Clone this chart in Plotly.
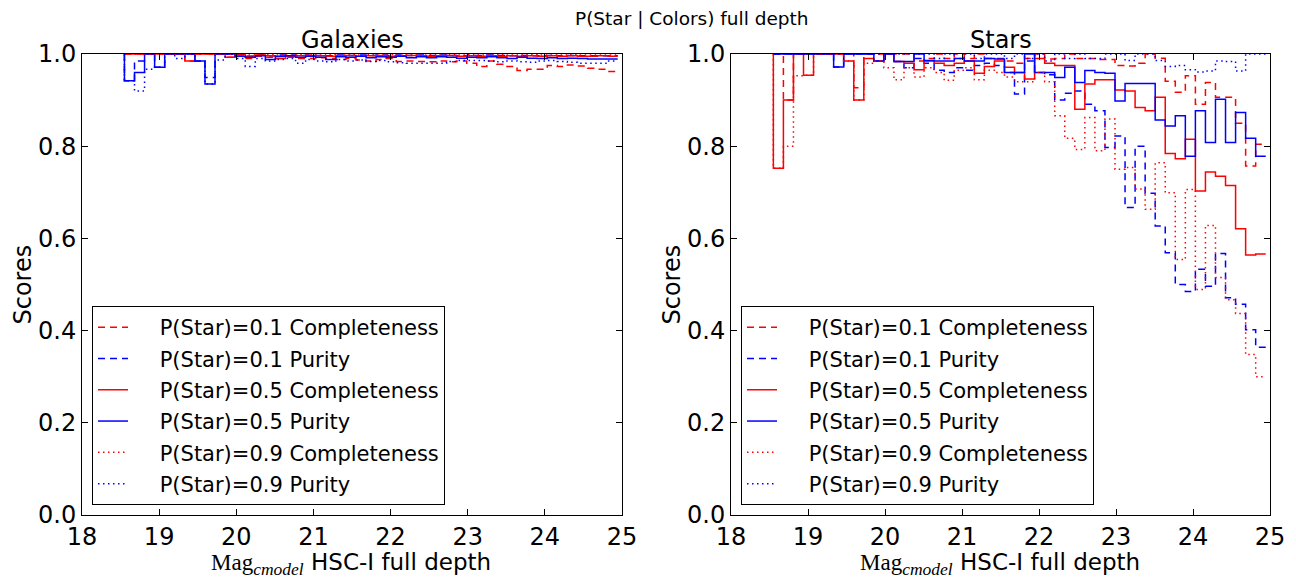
import plotly.graph_objects as go

# ---------------- data ----------------
BIN_START = 18.55
BIN_WIDTH = 0.1305
N_BINS = 49
EMPTY_BIN_SCORE = 1.0  # score of the (empty) bins brighter than the first edge

X_TICKS = [18, 19, 20, 21, 22, 23, 24, 25]
Y_TICKS = [0.0, 0.2, 0.4, 0.6, 0.8, 1.0]

series_names = [
    "P(Star)=0.1 Completeness",
    "P(Star)=0.1 Purity",
    "P(Star)=0.5 Completeness",
    "P(Star)=0.5 Purity",
    "P(Star)=0.9 Completeness",
    "P(Star)=0.9 Purity",
]

# ---- Stars panel ----
star_c01 = [1.0, 0.90, 1.0, 1.0, 1.0, 1.0, 1.0, 1.0, 0.927, 1.0,
            1.0, 1.0, 1.0, 1.0, 0.985, 0.99, 1.0, 0.99, 1.0, 0.99,
            1.0, 0.99, 0.99, 0.985, 0.98, 0.99, 1.0, 0.989, 0.99, 1.0,
            0.99, 0.99, 0.988, 0.988, 0.975, 0.974, 0.98, 1.0, 0.991, 0.941,
            0.917, 0.953, 0.891, 0.938, 0.906, 0.906, 0.85, 0.757, 0.804]
star_p01 = [1.0, 1.0, 1.0, 1.0, 1.0, 1.0, 0.972, 1.0, 1.0, 1.0,
            0.985, 1.0, 0.984, 0.97, 0.99, 0.98, 0.965, 0.96, 0.97, 0.965,
            0.975, 0.98, 0.975, 0.96, 0.913, 0.985, 0.96, 0.955, 0.90, 0.915,
            0.92, 0.891, 0.877, 0.797, 0.822, 0.667, 0.80, 0.698, 0.627, 0.569,
            0.50, 0.485, 0.533, 0.496, 0.567, 0.471, 0.457, 0.402, 0.364]
star_c05 = [0.752, 0.90, 1.0, 0.954, 1.0, 1.0, 1.0, 0.985, 0.90, 0.99,
            0.985, 1.0, 0.984, 0.98, 0.966, 0.985, 0.98, 0.975, 0.98, 0.985,
            0.958, 0.973, 0.985, 0.971, 0.96, 0.946, 0.99, 0.98, 0.975, 0.975,
            0.88, 0.935, 0.944, 0.944, 0.922, 0.92, 0.884, 0.877, 0.906, 0.784,
            0.773, 0.815, 0.703, 0.744, 0.735, 0.715, 0.621, 0.564, 0.566]
star_p05 = [1.0, 1.0, 1.0, 1.0, 1.0, 1.0, 0.972, 1.0, 1.0, 1.0,
            0.985, 1.0, 0.984, 0.984, 1.0, 0.986, 0.985, 0.985, 0.99, 0.985,
            0.985, 0.99, 0.989, 0.96, 0.96, 1.0, 0.96, 0.96, 0.949, 0.971,
            0.938, 0.964, 0.96, 0.958, 0.898, 0.936, 0.936, 0.936, 0.857, 0.844,
            0.866, 0.778, 0.877, 0.808, 0.902, 0.808, 0.873, 0.817, 0.778]
star_c09 = [0.752, 0.80, 0.953, 0.954, 1.0, 1.0, 1.0, 0.985, 0.90, 0.98,
            0.985, 0.97, 0.944, 0.97, 0.95, 0.97, 0.96, 0.943, 0.965, 0.97,
            0.944, 0.965, 0.96, 0.95, 0.94, 0.94, 0.96, 0.94, 0.866, 0.817,
            0.793, 0.862, 0.79, 0.859, 0.75, 0.754, 0.707, 0.663, 0.764, 0.699,
            0.554, 0.706, 0.489, 0.628, 0.515, 0.467, 0.437, 0.348, 0.30]
star_p09 = [1.0, 1.0, 1.0, 1.0, 1.0, 1.0, 1.0, 1.0, 1.0, 1.0,
            1.0, 1.0, 1.0, 1.0, 1.0, 1.0, 0.99, 1.0, 0.99, 1.0,
            0.99, 1.0, 1.0, 0.99, 1.0, 0.99, 1.0, 0.985, 1.0, 0.99,
            1.0, 0.99, 0.99, 1.0, 1.0, 0.986, 1.0, 1.0, 0.986, 0.973,
            0.975, 0.966, 0.961, 0.963, 0.985, 0.984, 0.963, 1.0, 1.0]

# ---- Galaxies panel ----
gal_c01 = [1.0, 1.0, 1.0, 1.0, 1.0, 1.0, 0.985, 1.0, 1.0, 1.0,
           0.993, 0.998, 0.99, 0.995, 0.993, 0.99, 0.993, 0.99, 0.99, 0.992,
           0.99, 0.988, 0.99, 0.987, 0.985, 0.988, 0.99, 0.984, 0.985, 0.984,
           0.983, 0.985, 0.983, 0.985, 0.98, 0.973, 0.985, 0.978, 0.973, 0.964,
           0.967, 0.967, 0.975, 0.973, 0.976, 0.974, 0.969, 0.967, 0.962]
gal_p01 = [0.942, 0.985, 1.0, 0.971, 1.0, 1.0, 1.0, 0.985, 0.949, 1.0,
           1.0, 1.0, 0.995, 0.998, 0.996, 0.998, 0.998, 0.997, 0.998, 0.997,
           0.996, 0.998, 0.997, 0.998, 0.997, 0.998, 0.997, 0.998, 0.997, 0.998,
           0.997, 0.998, 0.997, 0.996, 0.997, 0.997, 0.998, 0.997, 0.996, 0.997,
           0.996, 0.996, 0.997, 0.996, 0.997, 0.996, 0.996, 0.996, 0.996]
gal_c05 = [1.0, 1.0, 1.0, 1.0, 1.0, 1.0, 0.985, 1.0, 1.0, 1.0,
           0.993, 1.0, 0.995, 0.998, 0.996, 0.99, 0.995, 0.996, 0.997, 0.996,
           0.995, 0.996, 0.997, 0.995, 0.996, 0.997, 0.995, 0.996, 0.997, 0.996,
           0.995, 0.996, 0.997, 0.995, 0.996, 0.995, 0.996, 0.995, 0.996, 0.995,
           0.996, 0.995, 0.996, 0.995, 0.996, 0.995, 0.995, 0.996, 0.995]
gal_p05 = [0.942, 0.96, 1.0, 0.971, 1.0, 1.0, 1.0, 0.985, 0.935, 1.0,
           1.0, 0.995, 0.993, 0.996, 0.988, 0.995, 0.996, 0.993, 0.995, 0.993,
           0.988, 0.994, 0.993, 0.995, 0.992, 0.994, 0.993, 0.995, 0.992, 0.994,
           0.992, 0.994, 0.993, 0.991, 0.993, 0.992, 0.994, 0.992, 0.99, 0.993,
           0.991, 0.99, 0.992, 0.99, 0.991, 0.99, 0.989, 0.989, 0.989]
gal_c09 = [1.0, 1.0, 1.0, 1.0, 1.0, 1.0, 1.0, 1.0, 1.0, 1.0,
           1.0, 1.0, 0.998, 1.0, 0.999, 0.998, 1.0, 0.999, 0.999, 0.998,
           0.999, 0.998, 0.999, 0.998, 0.999, 0.998, 0.999, 0.998, 0.999, 0.998,
           0.999, 0.998, 0.999, 0.998, 0.999, 0.998, 0.998, 0.999, 0.998, 0.998,
           0.999, 0.998, 0.998, 0.998, 0.999, 0.998, 0.998, 0.998, 0.998]
gal_p09 = [0.942, 0.92, 0.967, 0.971, 1.0, 0.99, 1.0, 0.985, 0.935, 0.987,
           1.0, 0.99, 0.973, 0.99, 0.985, 0.988, 0.99, 0.98, 0.988, 0.985,
           0.983, 0.988, 0.985, 0.987, 0.984, 0.986, 0.983, 0.981, 0.98, 0.98,
           0.98, 0.98, 0.984, 0.986, 0.986, 0.986, 0.985, 0.983, 0.985, 0.983,
           0.982, 0.985, 0.986, 0.984, 0.982, 0.98, 0.98, 0.98, 0.985]

# ---------------- styling ----------------
RED = "#ff0000"
BLUE = "#0000ff"
DASHED = "7px,5px"
DOTTED = "1.5px,3.5px"
styles = [(RED, DASHED), (BLUE, DASHED), (RED, "solid"),
          (BLUE, "solid"), (RED, DOTTED), (BLUE, DOTTED)]
FONT = "DejaVu Sans"
LEGEND_PAD = "&nbsp;" * 4

edges = [BIN_START + BIN_WIDTH * i for i in range(N_BINS + 1)]

W, H = 1296, 578
ML, MR, MT, MB = 82, 26, 54, 63
PW = W - ML - MR
PH = H - MT - MB
LEFT_DOM = [0.0, 540 / PW]
RIGHT_DOM = [(731 - ML) / PW, 1.0]

fig = go.Figure()

panels = [
    ("x", "y", "legend", "g", [gal_c01, gal_p01, gal_c05, gal_p05, gal_c09, gal_p09]),
    ("x2", "y2", "legend2", "s", [star_c01, star_p01, star_c05, star_p05, star_c09, star_p09]),
]

for xa, ya, leg, tag, data in panels:
    for k, (name, vals, (col, dash)) in enumerate(zip(series_names, data, styles)):
        xs = [edges[0]] + edges
        ys = [EMPTY_BIN_SCORE] + list(vals) + [vals[-1]]
        fig.add_trace(go.Scatter(
            x=xs, y=ys, mode="lines", line_shape="hv",
            line=dict(color=col, width=1.5, dash=dash),
            name=LEGEND_PAD + name, xaxis=xa, yaxis=ya, legend=leg,
            legendgroup=f"{tag}{k}",
        ))

axis_common = dict(
    showline=True, linecolor="black", linewidth=1, mirror="ticks",
    ticks="inside", ticklen=6, tickcolor="black", tickwidth=1,
    showgrid=False, zeroline=False,
    tickfont=dict(family=FONT, size=24, color="black"),
)

fig.update_layout(
    width=W, height=H,
    margin=dict(l=ML, r=MR, t=MT, b=MB),
    paper_bgcolor="white", plot_bgcolor="white",
    xaxis=dict(domain=LEFT_DOM, range=[18, 25], tickvals=X_TICKS, anchor="y", **axis_common),
    yaxis=dict(domain=[0, 1], range=[0, 1], tickvals=Y_TICKS, tickformat=".1f", anchor="x", **axis_common),
    xaxis2=dict(domain=RIGHT_DOM, range=[18, 25], tickvals=X_TICKS, anchor="y2", **axis_common),
    yaxis2=dict(domain=[0, 1], range=[0, 1], tickvals=Y_TICKS, tickformat=".1f", anchor="x2", **axis_common),
    showlegend=True,
)

legend_common = dict(
    xanchor="left", yanchor="bottom", bgcolor="white",
    bordercolor="black", borderwidth=1,
    font=dict(family=FONT, size=21, color="black"),
    itemwidth=30, tracegroupgap=1, traceorder="grouped",
)
fig.update_layout(
    legend=dict(x=(92 - ML) / PW, y=(515 - 505) / PH, **legend_common),
    legend2=dict(x=(741 - ML) / PW, y=(515 - 505) / PH, **legend_common),
)

def px_x(p):
    return (p - ML) / PW

def px_y(p):
    return (MT + PH - p) / PH

xlabel = ("<span style='font-family:Liberation Serif;font-size:23px'>Mag</span>"
          "<span style='font-family:Liberation Serif;font-size:25px'><sub><i>cmodel</i></sub></span>"
          " HSC-I full depth")

annotations = [
    dict(text="P(Star | Colors) full depth", x=px_x(692), y=px_y(18), size=18.5),
    dict(text="Galaxies", x=px_x(352), y=px_y(40), size=24),
    dict(text="Stars", x=px_x(1001), y=px_y(40), size=24),
    dict(text="Scores", x=px_x(22), y=0.5, size=24, angle=-90),
    dict(text="Scores", x=px_x(671), y=0.5, size=24, angle=-90),
    dict(text=xlabel, x=px_x(351), y=px_y(563.5), size=23),
    dict(text=xlabel, x=px_x(1000), y=px_y(563.5), size=23),
]
for a in annotations:
    fig.add_annotation(
        text=a["text"], x=a["x"], y=a["y"], xref="paper", yref="paper",
        xanchor="center", yanchor="middle", showarrow=False,
        textangle=a.get("angle", 0),
        font=dict(family=FONT, size=a["size"], color="black"),
    )

fig.write_html("out.html", post_script="document.body.style.margin='0';",
               config={"displayModeBar": False})
